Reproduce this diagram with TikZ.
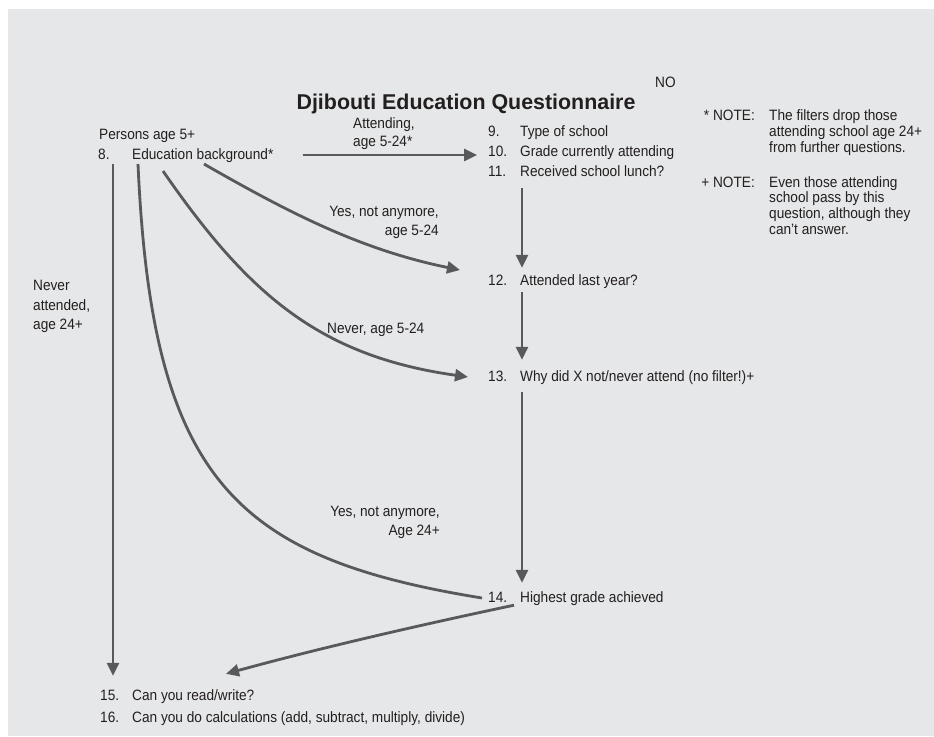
\documentclass[tikz,border=0pt]{standalone}
\usepackage{fontspec}
\setmainfont{Liberation Sans}[FakeStretch=0.91]
\newfontfamily\titlefont{Liberation Sans}
\usetikzlibrary{arrows.meta}
\definecolor{panel}{HTML}{E6E7E8}
\definecolor{ink}{HTML}{231F20}
\definecolor{wire}{HTML}{58595B}
\newcommand{\qno}[1]{\makebox[32pt][l]{#1}}

\begin{document}
\begin{tikzpicture}[x=1pt,y=-1pt,
  txt/.style={anchor=base west, inner sep=0pt, text=ink,
    font=\fontsize{15}{18}\selectfont, text height=11pt, text depth=3pt},
  lbl/.style={inner sep=0pt, text=ink, font=\fontsize{15}{#1}\selectfont},
  lbl/.default=18,
  flow/.style={draw=wire, line width=2.8pt, -{Triangle[length=13pt,width=12pt]}},
  link/.style={draw=wire, line width=2.8pt},
]
% page and panel
\useasboundingbox (0,0) rectangle (934,736);
\fill[white] (0,0) rectangle (934,736);
\fill[panel] (8,9) rectangle (934,736);

% title
\node[anchor=base, inner sep=0pt, text=ink,
  font=\titlefont\bfseries\fontsize{21.4}{25}\selectfont] (title) at (466,109)
  {Djibouti Education Questionnaire};
\node[txt] (no) at (655,87) {NO};

% questions
\node[txt] (persons) at (99,139) {Persons age 5+};
\node[txt] (q8)  at (98,159)  {\makebox[34pt][l]{8.}Education background*};
\node[txt] (q9)  at (488,136) {\qno{9.}Type of school};
\node[txt] (q10) at (488,156) {\qno{10.}Grade currently attending};
\node[txt] (q11) at (488,176) {\qno{11.}Received school lunch?};
\node[txt] (q12) at (488,285) {\qno{12.}Attended last year?};
\node[txt] (q13) at (488,381) {\qno{13.}Why did X not/never attend (no filter!)+};
\node[txt] (q14) at (488,602) {\qno{14.}Highest grade achieved};
\node[txt] (q15) at (100,700) {\qno{15.}Can you read/write?};
\node[txt] (q16) at (100,722) {\qno{16.}Can you do calculations (add, subtract, multiply, divide)};

% notes
\node[lbl, anchor=base east] (n1) at (755,120) {* NOTE:};
\node[lbl=16.3, anchor=north west, align=left] (n1t) at (769,109)
  {The filters drop those\\attending school age 24+\\from further questions.};
\node[lbl, anchor=base east] (n2) at (755,187) {+ NOTE:};
\node[lbl=15.8, anchor=north west, align=left] (n2t) at (769,176)
  {Even those attending\\school pass by this\\question, although they\\can’t answer.};

% branch labels
\node[lbl, anchor=north west, align=left] (l-att) at (353,117) {Attending,\\age 5-24*};
\node[lbl=19, anchor=north east, align=right] (l-yes) at (439,206) {Yes, not anymore,\\age 5-24};
\node[txt] (l-nev) at (327,333) {Never, age 5-24};
\node[lbl=19, anchor=north east, align=right] (l-yes24) at (440,506) {Yes, not anymore,\\Age 24+};
\node[lbl=19.5, anchor=north west, align=left] (l-nev24) at (33,280) {Never\\attended,\\age 24+};

% branch tails under question 8
\coordinate (sN24) at (113,164);
\coordinate (sY24) at (138,164);
\coordinate (sN)   at (163,171);
\coordinate (sY)   at (204,164);

% connectors
\draw[flow, shorten <=29pt, shorten >=11pt] (q8.east) -- (q8.east -| q10.west);
\draw[flow, shorten <=9pt, shorten >=6pt] ([xshift=34pt]q11.south west) -- ([xshift=34pt]q12.north west);
\draw[flow, shorten <=4pt, shorten >=10pt] ([xshift=34pt]q12.south west) -- ([xshift=34pt]q13.north west);
\draw[flow, shorten <=8pt, shorten >=8pt] ([xshift=34pt]q13.south west) -- ([xshift=34pt]q14.north west);

\draw[flow] (sY) .. controls (291,214) and (362,250) .. ([xshift=-28pt,yshift=11pt]q12.west);
\draw[flow] (sN) .. controls (248,294) and (319,356) .. ([xshift=-20pt]q13.west);
\draw[link] (sY24) .. controls (152,480) and (235,558) .. ([xshift=-6pt]q14.west);
\draw[flow, shorten >=13pt] (sN24) -- (sN24 |- q15.north);
\draw[flow] ([xshift=26pt]q14.south west) .. controls (420,625) and (320,648) .. ([xshift=126pt,yshift=15pt]q15.north west);
\end{tikzpicture}
\end{document}
